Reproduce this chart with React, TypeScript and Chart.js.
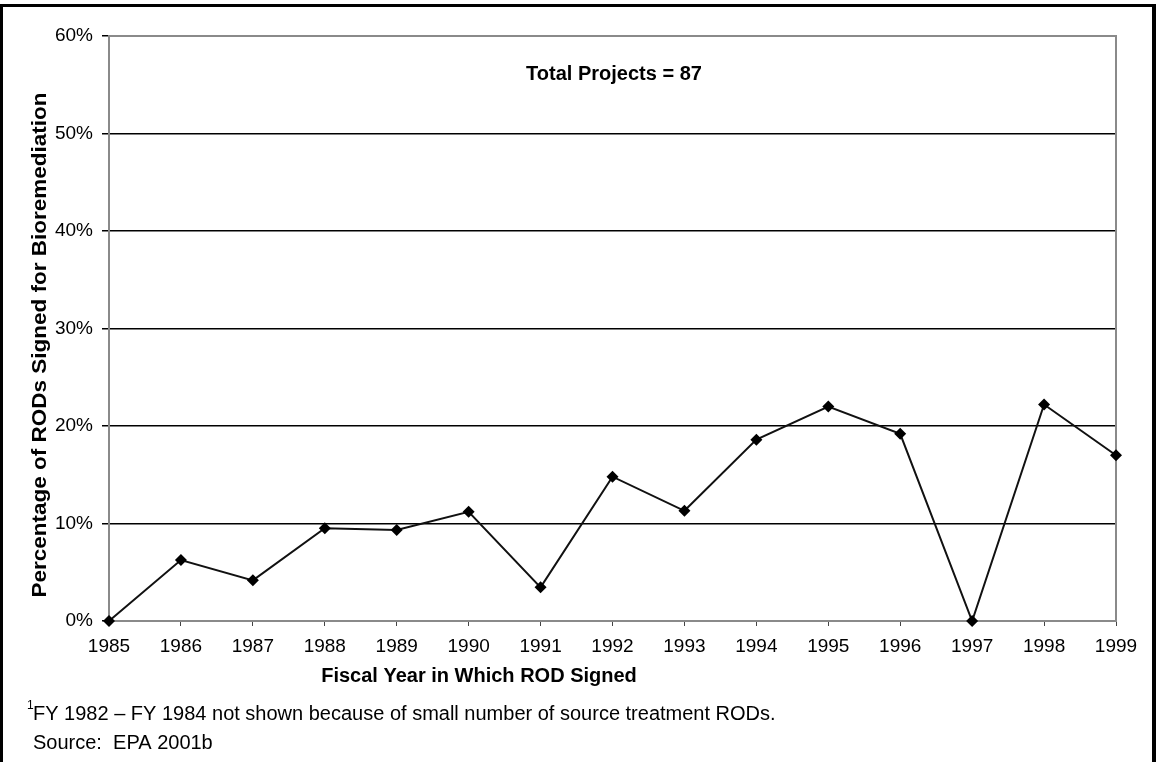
import React, { useEffect, useRef } from 'react';
import { Chart, registerables } from 'chart.js';

Chart.register(...registerables);

const years = ['1985', '1986', '1987', '1988', '1989', '1990', '1991', '1992', '1993', '1994', '1995', '1996', '1997', '1998', '1999'];
const percentBioremediation = [0, 6.25, 4.17, 9.52, 9.33, 11.2, 3.45, 14.8, 11.3, 18.6, 22.0, 19.2, 0, 22.2, 17.0];
const yTickMax = 60;
const yTickStep = 10;
const annotationText = 'Total Projects = 87';
const xTitle = 'Fiscal Year in Which ROD Signed';
const yTitle = 'Percentage of RODs Signed for Bioremediation';
const footnote = 'FY 1982 \u2013 FY 1984 not shown because of small number of source treatment RODs.';
const sourceText = 'Source:  EPA 2001b';

const FONT = '"Liberation Sans", Arial, Helvetica, sans-serif';

const textPlugin = {
  id: 'extraText',
  beforeDatasetsDraw(chart: any) {
    const { ctx, chartArea } = chart;
    ctx.save();
    ctx.strokeStyle = '#8a8a8a';
    ctx.lineWidth = 2;
    ctx.strokeRect(chartArea.left, chartArea.top, chartArea.right - chartArea.left, chartArea.bottom - chartArea.top);
    ctx.restore();
  },
  afterDraw(chart: any) {
    const { ctx } = chart;
    ctx.save();
    ctx.fillStyle = '#000';
    ctx.textBaseline = 'middle';
    ctx.textAlign = 'center';
    ctx.font = `bold 20px ${FONT}`;
    ctx.fillText(annotationText, 614, 74);
    ctx.fillText(xTitle, 479, 676);
    ctx.save();
    ctx.translate(40, 345);
    ctx.rotate(-Math.PI / 2);
    const w = ctx.measureText(yTitle).width;
    ctx.scale(505 / w, 1);
    ctx.fillText(yTitle, 0, 0);
    ctx.restore();
    ctx.textAlign = 'left';
    ctx.font = `12px ${FONT}`;
    ctx.fillText('1', 27, 706);
    ctx.font = `20px ${FONT}`;
    ctx.fillText(footnote, 33, 714);
    ctx.fillText(sourceText, 33, 743);
    ctx.restore();
  },
};

export default function App() {
  const canvasRef = useRef<HTMLCanvasElement | null>(null);

  useEffect(() => {
    if (!canvasRef.current) return;
    const chart = new Chart(canvasRef.current, {
      type: 'line',
      data: {
        labels: years,
        datasets: [
          {
            data: percentBioremediation,
            borderColor: '#111',
            borderWidth: 2,
            backgroundColor: '#000',
            pointStyle: 'rectRot',
            pointRadius: 6,
            pointBorderWidth: 0,
            pointBackgroundColor: '#000',
            tension: 0,
            fill: false,
            clip: false,
          },
        ],
      },
      options: {
        animation: false,
        responsive: false,
        devicePixelRatio: 1,
        layout: { padding: { left: 0, top: 36, right: 40, bottom: 0 } },
        plugins: {
          legend: { display: false },
          tooltip: { enabled: false },
          title: { display: false },
        },
        scales: {
          x: {
            offset: false,
            border: { display: false },
            grid: {
              drawOnChartArea: false,
              drawTicks: true,
              tickLength: 5,
              tickColor: '#444',
              tickWidth: 1,
            },
            ticks: {
              color: '#000',
              font: { family: FONT, size: 19 },
              padding: 9,
              maxRotation: 0,
              autoSkip: false,
            },
            afterFit: (scale: any) => {
              scale.height = 141;
            },
          },
          y: {
            min: 0,
            max: yTickMax,
            border: { display: false },
            grid: {
              color: (c: any) => (c.tick && (c.tick.value === 0 || c.tick.value === yTickMax) ? 'rgba(0,0,0,0)' : '#000'),
              lineWidth: 1.5,
              tickColor: '#000',
              tickLength: 7,
              tickWidth: 1.5,
            },
            ticks: {
              stepSize: yTickStep,
              color: '#000',
              font: { family: FONT, size: 19 },
              padding: 9,
              callback: (v: any) => `${v}%`,
            },
            afterFit: (scale: any) => {
              scale.width = 109;
            },
          },
        },
      },
      plugins: [textPlugin],
    });
    return () => chart.destroy();
  }, []);

  return (
    <div style={{ position: 'fixed', left: 0, top: 0, width: 1156, height: 762, background: '#fff', overflow: 'hidden' }}>
      <div
        style={{
          position: 'absolute',
          left: 0,
          top: 4,
          width: 1156,
          height: 800,
          borderTop: '3px solid #000',
          borderLeft: '3px solid #000',
          borderRight: '4px solid #000',
          boxSizing: 'border-box',
        }}
      />
      <canvas ref={canvasRef} width={1156} height={762} style={{ position: 'absolute', left: 0, top: 0, width: 1156, height: 762 }} />
    </div>
  );
}
